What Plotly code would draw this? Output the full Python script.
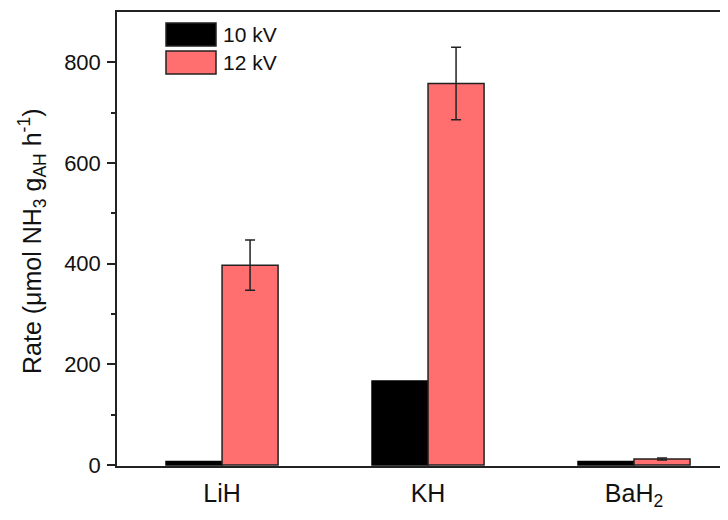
import plotly.graph_objects as go

categories = ["LiH", "KH", "BaH<sub>2</sub>"]
rate_10kv = [7, 167, 7]
rate_12kv = [397, 758, 12]
err_12kv = [50, 72, 2]
series_names = ["10 kV", "12 kV"]
colors = ["#000000", "#FF6F6F"]
y_title = "Rate (μmol NH<sub>3</sub> g<sub>AH</sub> h<sup>-1</sup>)"

fig = go.Figure()
fig.add_trace(go.Bar(
    x=categories, y=rate_10kv, name=series_names[0],
    marker=dict(color=colors[0], line=dict(color="#000000", width=1.5)),
    showlegend=False,
))
fig.add_trace(go.Bar(
    x=categories, y=rate_12kv, name=series_names[1],
    marker=dict(color=colors[1], line=dict(color="#222222", width=1.5)),
    error_y=dict(type="data", array=err_12kv, color="#222222", thickness=1.5, width=5),
    showlegend=False,
))

# page body has an 8px margin, so figure coords = screen coords - 8
OFF = 8
L, R, T, B = 117 - OFF, 728, 12 - OFF, 466 - OFF
W, H = R - L, B - T

def px(x):
    return (x - OFF - L) / W

def py(y):
    return 1 - (y - OFF - T) / H

leg_boxes = [(23, 46), (51, 74)]
for nm, c, (y0, y1) in zip(series_names, colors, leg_boxes):
    fig.add_shape(type="rect", xref="paper", yref="paper",
                  x0=px(166), x1=px(216), y0=py(y1), y1=py(y0),
                  fillcolor=c, line=dict(color="#222222", width=1.5))
    fig.add_annotation(xref="paper", yref="paper",
                       x=px(221), y=py((y0 + y1) / 2),
                       text=nm, showarrow=False, xanchor="left", yanchor="middle",
                       font=dict(size=21, color="#111111"))

fig.add_annotation(xref="paper", yref="paper", x=px(32), y=py(242),
                   text=y_title, textangle=-90, showarrow=False,
                   xanchor="center", yanchor="middle",
                   font=dict(size=25, color="#111111"))

fig.update_layout(
    width=728, height=520,
    margin=dict(l=L, r=0, t=T, b=520 - B, autoexpand=False),
    paper_bgcolor="white", plot_bgcolor="white",
    barmode="group", bargap=0.456, bargroupgap=0,
    font=dict(family="Liberation Sans, Arial, sans-serif", color="#111111"),
    xaxis=dict(
        range=[-0.51, 2.495], showline=True, linecolor="#222222", linewidth=1.5,
        mirror=True, ticks="", showgrid=False, automargin=False,
        tickfont=dict(size=25), ticklabelstandoff=4,
    ),
    yaxis=dict(
        range=[-2, 900], showline=True, linecolor="#222222", linewidth=1.5,
        ticks="outside", ticklen=8, tickwidth=1.5, tickcolor="#222222",
        tickvals=[0, 200, 400, 600, 800], showgrid=False, zeroline=False,
        automargin=False, tickfont=dict(size=22), ticklabelstandoff=2,
        minor=dict(tickvals=[100, 300, 500, 700], ticks="outside", ticklen=4,
                   tickwidth=1.5, tickcolor="#222222"),
    ),
)

fig.write_html("out.html")
